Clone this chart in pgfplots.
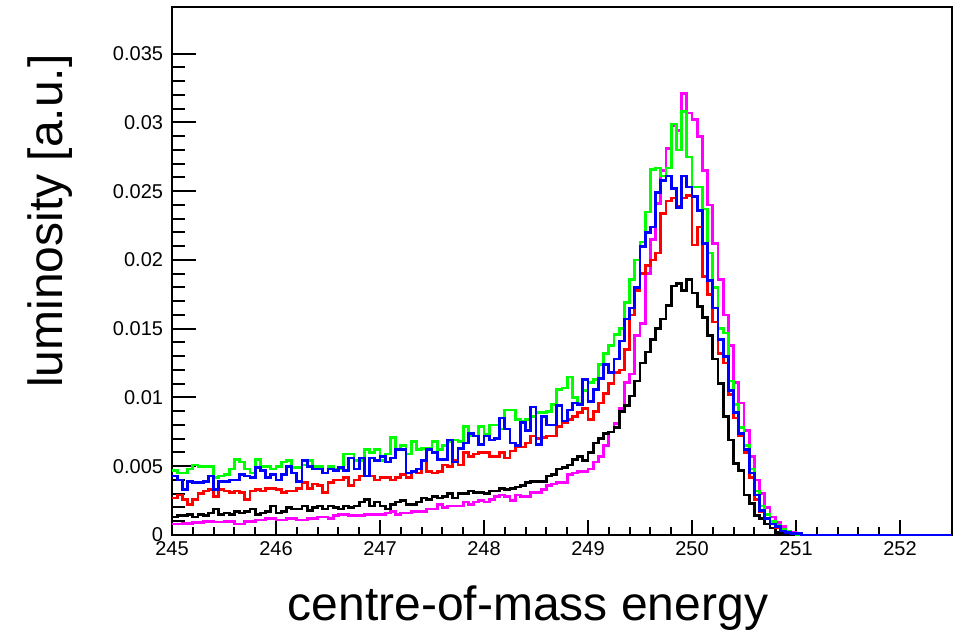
\documentclass[border=0pt]{standalone}
\usepackage{fontspec}
\setmainfont{Liberation Sans}
\usepackage{pgfplots}
\usepackage{pgfplotstable}
\pgfplotsset{compat=1.18}
\definecolor{hgreen}{rgb}{0,1,0}
\definecolor{hblue}{rgb}{0,0,1}
\definecolor{hred}{rgb}{1,0,0}
\definecolor{hmag}{rgb}{1,0,1}

% bin left edges (bin width 0.05), luminosity per bin
\pgfplotstableread{
x g b r k m
245.00 0.0047 0.0043 0.0027 0.0013 0.0008
245.05 0.0045 0.0040 0.0029 0.0014 0.0008
245.10 0.0045 0.0033 0.0026 0.0014 0.00085
245.15 0.0048 0.0039 0.0022 0.0015 0.00085
245.20 0.0051 0.0038 0.0026 0.0013 0.0009
245.25 0.0050 0.0038 0.0030 0.0015 0.0009
245.30 0.0050 0.0039 0.0032 0.0014 0.0010
245.35 0.0050 0.0043 0.0033 0.0016 0.0010
245.40 0.0042 0.0033 0.0028 0.0019 0.00095
245.45 0.0043 0.0039 0.0033 0.0015 0.00095
245.50 0.0044 0.0039 0.0032 0.0016 0.0010
245.55 0.0048 0.0040 0.0031 0.0015 0.0010
245.60 0.0055 0.0040 0.0032 0.0017 0.0008
245.65 0.0053 0.0044 0.0031 0.0016 0.0008
245.70 0.0048 0.0043 0.0026 0.0017 0.0010
245.75 0.0045 0.0042 0.0032 0.0019 0.0010
245.80 0.0055 0.0049 0.0033 0.0015 0.0011
245.85 0.0050 0.0047 0.0032 0.0016 0.0011
245.90 0.0050 0.0042 0.0034 0.0017 0.0012
245.95 0.0048 0.0044 0.0034 0.0021 0.0012
246.00 0.0050 0.0040 0.0033 0.0016 0.0011
246.05 0.0053 0.0044 0.0031 0.0017 0.0011
246.10 0.0054 0.0050 0.0032 0.0020 0.0012
246.15 0.0049 0.0045 0.0032 0.0019 0.0012
246.20 0.0049 0.0039 0.0034 0.0019 0.0011
246.25 0.0051 0.0054 0.0038 0.0021 0.0011
246.30 0.0054 0.0050 0.0034 0.0018 0.0012
246.35 0.0050 0.0048 0.0037 0.0020 0.0012
246.40 0.0050 0.0048 0.0036 0.0021 0.0013
246.45 0.0045 0.0045 0.0031 0.0019 0.0013
246.50 0.0050 0.0048 0.0038 0.0021 0.0012
246.55 0.0048 0.0047 0.0040 0.0020 0.0014
246.60 0.0048 0.0049 0.0040 0.0019 0.0015
246.65 0.0059 0.0047 0.0042 0.0021 0.0015
246.70 0.0059 0.0056 0.0036 0.0020 0.0014
246.75 0.0054 0.0048 0.0040 0.0021 0.0014
246.80 0.0054 0.0056 0.0043 0.0024 0.0014
246.85 0.0062 0.0043 0.0043 0.0026 0.0015
246.90 0.0060 0.0056 0.0043 0.0021 0.0015
246.95 0.0062 0.0054 0.0040 0.0024 0.0015
247.00 0.0054 0.0057 0.0042 0.0021 0.0015
247.05 0.0059 0.0053 0.0042 0.0019 0.0016
247.10 0.0071 0.0056 0.0040 0.0022 0.0017
247.15 0.0062 0.0062 0.0042 0.0024 0.0015
247.20 0.0065 0.0062 0.0044 0.0025 0.0016
247.25 0.0059 0.0045 0.0042 0.0022 0.0016
247.30 0.0068 0.0046 0.0046 0.0022 0.0017
247.35 0.0062 0.0048 0.0045 0.0024 0.0017
247.40 0.0063 0.0054 0.0054 0.0027 0.0017
247.45 0.0063 0.0062 0.0046 0.0026 0.0019
247.50 0.0068 0.0060 0.0045 0.0028 0.0019
247.55 0.0062 0.0055 0.0046 0.0027 0.0022
247.60 0.0065 0.0055 0.0051 0.0028 0.0020
247.65 0.0068 0.0069 0.0050 0.0030 0.0021
247.70 0.0069 0.0053 0.0054 0.0027 0.0021
247.75 0.0068 0.0063 0.0051 0.0030 0.0021
247.80 0.0079 0.0067 0.0060 0.0030 0.0024
247.85 0.0072 0.0074 0.0057 0.0032 0.0022
247.90 0.0072 0.0072 0.0059 0.0031 0.0024
247.95 0.0079 0.0066 0.0060 0.0031 0.0025
248.00 0.0073 0.0072 0.0060 0.0030 0.0024
248.05 0.0080 0.0069 0.0057 0.0032 0.0026
248.10 0.0080 0.0070 0.0057 0.0032 0.0028
248.15 0.0077 0.0085 0.0060 0.0034 0.0029
248.20 0.0091 0.0077 0.0056 0.0033 0.0028
248.25 0.0091 0.0067 0.0061 0.0034 0.0025
248.30 0.0084 0.0065 0.0064 0.0035 0.0029
248.35 0.0083 0.0082 0.0064 0.0036 0.0028
248.40 0.0084 0.0076 0.0067 0.0038 0.0028
248.45 0.0086 0.0093 0.0072 0.0039 0.0031
248.50 0.0089 0.0066 0.0070 0.0039 0.0031
248.55 0.0089 0.0086 0.0071 0.0039 0.0033
248.60 0.0090 0.0080 0.0072 0.0043 0.0036
248.65 0.0095 0.0080 0.0072 0.0044 0.0037
248.70 0.0106 0.0094 0.0079 0.0048 0.0038
248.75 0.0107 0.0083 0.0082 0.0049 0.0038
248.80 0.0115 0.0091 0.0084 0.0051 0.0044
248.85 0.0100 0.0096 0.0086 0.0055 0.0045
248.90 0.0096 0.0095 0.0089 0.0057 0.0046
248.95 0.0105 0.0113 0.0092 0.0054 0.0046
249.00 0.0111 0.0097 0.0084 0.0060 0.0048
249.05 0.0113 0.0106 0.0090 0.0067 0.0053
249.10 0.0124 0.0114 0.0096 0.0070 0.0057
249.15 0.0132 0.0124 0.0103 0.0074 0.0065
249.20 0.0138 0.0118 0.0110 0.0075 0.0075
249.25 0.0146 0.0128 0.0118 0.0078 0.0081
249.30 0.0150 0.0141 0.0120 0.0090 0.0092
249.35 0.0169 0.0157 0.0135 0.0094 0.0111
249.40 0.0186 0.0165 0.0160 0.0101 0.0117
249.45 0.0200 0.0180 0.0178 0.0112 0.0145
249.50 0.0213 0.0210 0.0190 0.0125 0.0154
249.55 0.0235 0.0220 0.0196 0.0133 0.0190
249.60 0.0266 0.0224 0.0200 0.0142 0.0215
249.65 0.0267 0.0249 0.0205 0.0150 0.0241
249.70 0.0261 0.0258 0.0234 0.0157 0.0265
249.75 0.0267 0.0261 0.0243 0.0167 0.0281
249.80 0.0299 0.0252 0.0245 0.0181 0.0298
249.85 0.0280 0.0238 0.0239 0.0183 0.0294
249.90 0.0308 0.0261 0.0245 0.0178 0.0321
249.95 0.0275 0.0253 0.0247 0.0186 0.0307
250.00 0.0253 0.0246 0.0211 0.0176 0.0302
250.05 0.0253 0.0236 0.0224 0.0166 0.0290
250.10 0.0237 0.0212 0.0188 0.0158 0.0265
250.15 0.0205 0.0185 0.0175 0.0145 0.0240
250.20 0.0180 0.0165 0.0155 0.0128 0.0212
250.25 0.0150 0.0142 0.0132 0.0110 0.0186
250.30 0.0147 0.0130 0.0125 0.0086 0.0160
250.35 0.0112 0.0105 0.0102 0.0069 0.0138
250.40 0.0095 0.0089 0.0085 0.0052 0.0111
250.45 0.0078 0.0074 0.0072 0.0047 0.0096
250.50 0.0065 0.0062 0.0060 0.0029 0.0076
250.55 0.0048 0.0045 0.0042 0.0023 0.0057
250.60 0.0032 0.0029 0.0026 0.0014 0.0040
250.65 0.0021 0.0018 0.0017 0.0012 0.0030
250.70 0.0015 0.0012 0.0012 0.0008 0.0020
250.75 0.0010 0.0008 0.0008 0.0005 0.0013
250.80 0.0007 0.0006 0.0005 0.0002 0.0009
250.85 0.0004 0.0003 0.0003 0.0001 0.0006
250.90 0.0003 0.0002 0.0002 0.0000 0.0003
250.95 0.0001 0.0001 0.0001 0.0000 0.0002
251.00 0.0000 0.0001 0.0000 0.0000 0.0001
251.05 0 0 0 0 0
252.50 0 0 0 0 0
}\lumi

\begin{document}
\begin{tikzpicture}
\begin{axis}[
  scale only axis,
  width=312pt, height=211.2pt,
  xmin=245, xmax=252.5,
  ymin=0, ymax=0.0384,
  clip=false,
  scaled x ticks=false, scaled y ticks=false,
  axis line style={line width=0.8pt},
  tick align=inside,
  tick pos=left,
  every tick/.style={black, line width=0.8pt},
  major tick length=9.6pt,
  minor tick length=5pt,
  x tick style={/pgfplots/major tick length=6pt, /pgfplots/minor tick length=3.2pt},
  xtick={245,246,247,248,249,250,251,252},
  xticklabels={245,246,247,248,249,250,251,252},
  ytick={0,0.005,0.01,0.015,0.02,0.025,0.03,0.035},
  yticklabels={0,0.005,0.01,0.015,0.02,0.025,0.03,0.035},
  minor x tick num=4,
  minor y tick num=4,
  xticklabel style={font=\fontsize{8}{9}\selectfont, inner sep=1pt, yshift=-1.6pt},
  yticklabel style={font=\fontsize{8}{9}\selectfont, inner sep=1pt, xshift=-2.4pt},
  every axis plot/.append style={const plot mark left, no markers, line width=1.05pt},
]
\coordinate (sw) at (rel axis cs:0,0);
\coordinate (ne) at (rel axis cs:1,1);
\coordinate (lm) at (rel axis cs:0,0.5);
\coordinate (bm) at (rel axis cs:0.5,0);
\addplot[hmag] table[x=x, y=m] {\lumi};
\addplot[black] table[x=x, y=k] {\lumi};
\addplot[hred] table[x=x, y=r] {\lumi};
\addplot[hgreen] table[x=x, y=g] {\lumi};
\addplot[hblue] table[x=x, y=b] {\lumi};
\end{axis}
\node[rotate=90, anchor=base, font=\fontsize{19.2}{22}\selectfont] at ([xshift=-44pt, yshift=20pt]lm) {luminosity [a.u.]};
\node[anchor=base, font=\fontsize{19.2}{22}\selectfont] at ([xshift=-13.6pt, yshift=-34pt]bm) {centre-of-mass energy};
\pgfresetboundingbox
\path ([shift={(-68.8pt,-42pt)}]sw) rectangle ([shift={(5.6pt,2.8pt)}]ne);
\end{tikzpicture}
\end{document}
